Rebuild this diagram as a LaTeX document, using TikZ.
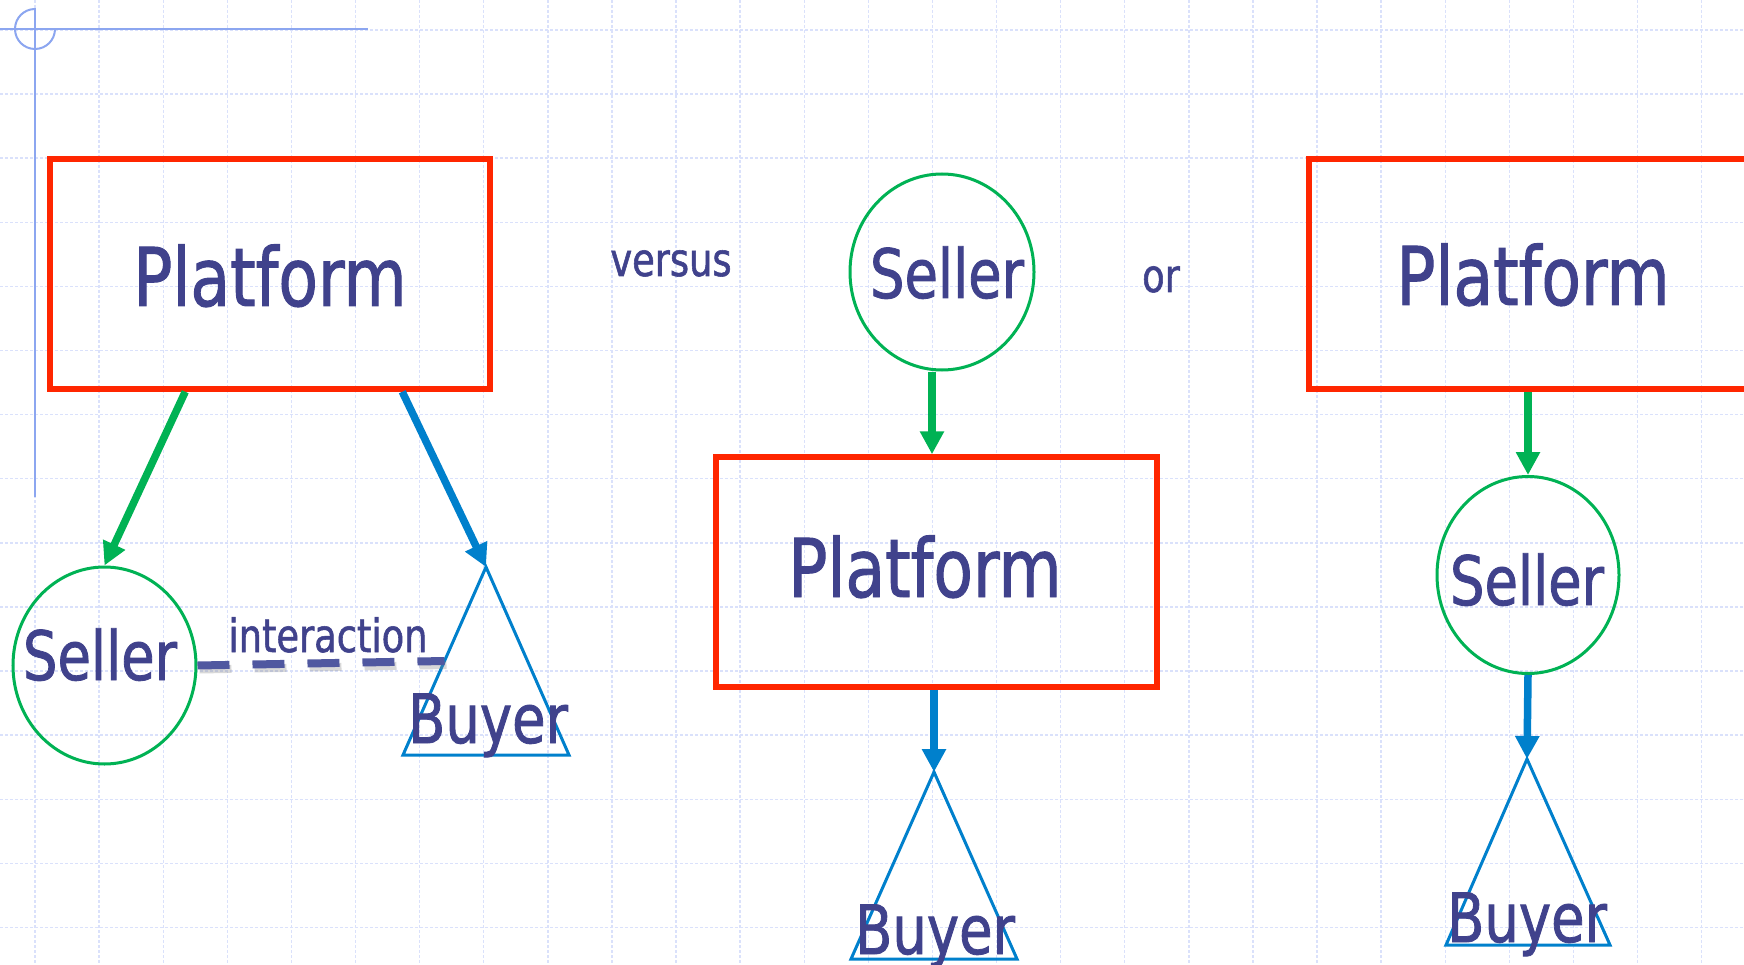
\documentclass[tikz,border=0pt]{standalone}
\usepackage{fontspec}
\usetikzlibrary{arrows.meta,shapes.geometric,calc}
\newfontfamily\dfont[FakeStretch=0.8,FakeBold=1.2]{DejaVu Sans}
\definecolor{boxred}{RGB}{255,38,0}
\definecolor{selgreen}{RGB}{0,178,84}
\definecolor{buyblue}{RGB}{0,128,204}
\definecolor{txt}{RGB}{64,66,140}
\definecolor{guide}{RGB}{140,166,240}
\definecolor{gridc}{RGB}{218,225,251}
\definecolor{linkc}{RGB}{80,88,160}
\begin{document}
\begin{tikzpicture}[x=1pt,y=-1pt,
  platbox/.style={draw=boxred, line width=5.5pt, minimum width=440pt, minimum height=230pt, inner sep=0pt},
  sellerell/.style={draw=selgreen, ellipse, line width=3pt, inner sep=0pt},
  buyertri/.style={draw=buyblue, line width=3pt, line join=miter},
  bigtxt/.style={text=txt, font=\dfont\fontsize{81}{90}\selectfont, anchor=base, inner sep=0pt},
  midtxt/.style={text=txt, font=\dfont\fontsize{68}{76}\selectfont, anchor=base, inner sep=0pt},
  smalltxt/.style={text=txt, font=\dfont\fontsize{46}{52}\selectfont, anchor=base, inner sep=0pt},
  garrow/.style={draw=selgreen, line width=7.5pt, -{Triangle[length=23pt,width=23pt]}},
  barrow/.style={draw=buyblue, line width=7.5pt, -{Triangle[length=23pt,width=23pt]}},
  gridline/.style={draw=gridc, line width=1.4pt, dash pattern=on 3pt off 2pt},
  guideline/.style={draw=guide, line width=2pt},
  link/.style={draw=linkc, line width=8pt, dash pattern=on 32pt off 23pt},
]
\useasboundingbox (0,0) rectangle (1744,965);
\clip (0,0) rectangle (1744,965);
\fill[white] (0,0) rectangle (1744,965);

% background grid
\foreach \i in {0,...,26}
  \draw[gridline] ({35+64.1*\i},0) -- ({35+64.1*\i},965);
\foreach \j in {0,...,14}
  \draw[gridline] (0,{30+64.1*\j}) -- (1744,{30+64.1*\j});

% corner guide mark
\draw[guideline] (0,29) -- (368,29);
\draw[guideline] (35,8) -- (35,497);
\draw[guideline] (35,9) arc[start angle=270, end angle=0, radius=20];

% left: platform with seller and buyer interacting
\node[platbox] (p1) at (270,274) {};
\node[sellerell, minimum width=183pt, minimum height=197pt] (s1) at (104.5,665.5) {};
\coordinate (b1) at (486,567);
\coordinate (b1l) at (403,755);
\draw[buyertri] (b1) -- (b1l) -- ++(166,0) -- cycle;
\coordinate (b1e) at ($(b1)!0.5!(b1l)$);
\draw[link, draw=gray, opacity=0.3] ($(s1.east)+(2,4)$) -- ($(b1e)+(2,4)$);
\draw[link] (s1.east) -- (b1e);
\draw[garrow] ($(p1.south west)+(138,0)$) -- (s1.north);
\draw[barrow] ($(p1.south west)+(355,0)$) -- (b1);

\node[bigtxt] (p1t) at (270,306) {Platform};
\node[midtxt] (s1t) at (100,680) {Seller};
\node[midtxt] (b1t) at (488,743) {Buyer};
\node[smalltxt] (it) at (328,652) {interaction};

% middle: seller above platform above buyer
\node[smalltxt] (vs) at (671,276) {versus};
\node[sellerell, minimum width=184pt, minimum height=196pt] (s2) at (942,272) {};
\node[platbox, minimum width=441pt] (p2) at (936.5,572) {};
\coordinate (b2) at (934,772);
\draw[buyertri] (b2) -- ++(-83,187) -- ++(166,0) -- cycle;
\draw[garrow] ($(s2.south)+(-10,0)$) coordinate (g2) -- (g2 |- p2.north);
\draw[barrow] (b2 |- p2.south) -- (b2);
\node[midtxt] (s2t) at (947,298) {Seller};
\node[bigtxt] (p2t) at (925,597) {Platform};
\node[midtxt] (b2t) at (935,954) {Buyer};

% right: platform above seller above buyer
\node[smalltxt] (orw) at (1161,292) {or};
\node[platbox] (p3) at (1529,274) {};
\node[sellerell, minimum width=182pt, minimum height=197pt] (s3) at (1528,575) {};
\coordinate (b3) at (1527,759);
\draw[buyertri] (b3) -- ++(-81,186) -- ++(164,0) -- cycle;
\draw[garrow] (s3.north |- p3.south) -- (s3.north);
\draw[barrow] (s3.south) -- (b3);
\node[bigtxt] (p3t) at (1533,305) {Platform};
\node[midtxt] (s3t) at (1527,605) {Seller};
\node[midtxt] (b3t) at (1527,942) {Buyer};
\end{tikzpicture}
\end{document}
